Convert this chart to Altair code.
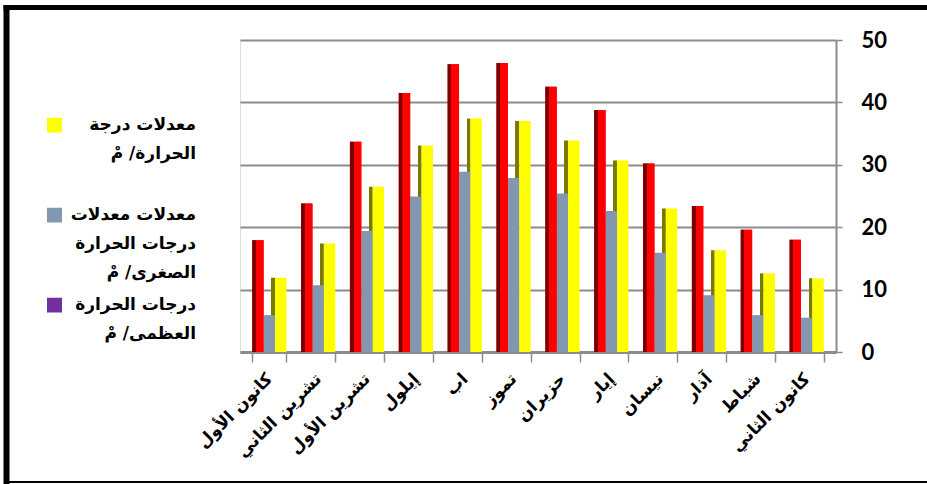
import altair as alt
import pandas as pd

months = ["كانون الأول", "تشرين الثاني", "تشرين الأول", "إيلول", "اب", "تموز",
          "حزيران", "إيار", "نيسان", "آذار", "شباط", "كانون الثاني"]
max_temp = [17.9, 23.8, 33.7, 41.5, 46.1, 46.3, 42.5, 38.8, 30.2, 23.4, 19.6, 18.0]
min_temp = [5.9, 10.7, 19.4, 24.9, 28.9, 27.9, 25.4, 22.6, 15.9, 9.1, 5.9, 5.5]
avg_temp = [11.9, 17.4, 26.5, 33.1, 37.4, 37.0, 33.9, 30.7, 23.0, 16.3, 12.6, 11.8]

series_avg = "معدلات درجة\nالحرارة/ مْ"
series_min = "معدلات معدلات\nدرجات الحرارة\nالصغرى/ مْ"
series_max = "درجات الحرارة\nالعظمى/ مْ"
y_ticks = [0, 10, 20, 30, 40, 50]

RED, DARK_RED = "#FF0000", "#7A0000"
GRAY = "#8497B0"
YELLOW, OLIVE = "#FFFF00", "#7A7A00"
PURPLE = "#7030A0"
AXIS_GRAY = "#8C8C8C"
AR_FONT = "DejaVu Sans"

rows = []
for i, m in enumerate(months):
    rows.append({"month": m, "series": series_max, "value": max_temp[i]})
    rows.append({"month": m, "series": series_min, "value": min_temp[i]})
    rows.append({"month": m, "series": series_avg, "value": avg_temp[i]})
long_df = pd.DataFrame(rows)
# side face of the yellow bar sits in the slot of the grey bar, behind it
side_df = pd.DataFrame({"month": months, "series": series_min, "value": avg_temp})

x_enc = alt.X("month:N", sort=months,
              scale=alt.Scale(domain=months, paddingInner=0.3, paddingOuter=0.25),
              axis=alt.Axis(title=None, labelAngle=-45, labelAlign="right", labelBaseline="middle",
                            labelFont=AR_FONT, labelFontSize=17, labelFontWeight="bold",
                            labelColor="black", labelPadding=14, labelLimit=300,
                            tickBand="extent", tickSize=10, tickColor=AXIS_GRAY, tickWidth=1.5,
                            domainColor=AXIS_GRAY, domainWidth=3, grid=False))
off_enc = alt.XOffset("series:N", sort=[series_max, series_min, series_avg],
                      scale=alt.Scale(domain=[series_max, series_min, series_avg],
                                      paddingInner=0, paddingOuter=0))
y_axis = alt.Axis(title=None, orient="right", values=y_ticks,
                  labelFont="Lato", labelFontSize=22, labelFontWeight="bold", labelColor="black",
                  labelPadding=19, tickSize=6, tickColor=AXIS_GRAY, tickWidth=1.5,
                  domainColor=AXIS_GRAY, domainWidth=2, gridColor=AXIS_GRAY, gridWidth=2)
y_scale = alt.Scale(domain=[0, 50], nice=False)
y_enc = alt.Y("value:Q", scale=y_scale, axis=y_axis)


def side_gradient(start, end, color_a, color_b):
    return alt.Gradient(
        gradient="linear", x1=0, x2=1, y1=0, y2=0,
        stops=[alt.GradientStop(color=color_a, offset=0),
               alt.GradientStop(color=color_a, offset=start),
               alt.GradientStop(color=color_b, offset=end),
               alt.GradientStop(color=color_b, offset=1)])


yellow_side = alt.Chart(side_df).mark_bar(
    color=side_gradient(0.66, 0.67, "rgba(0,0,0,0)", OLIVE)
).encode(x=x_enc, xOffset=off_enc, y=y_enc)

bars = alt.Chart(long_df).mark_bar().encode(
    x=x_enc, xOffset=off_enc, y=y_enc,
    color=alt.Color("series:N",
                    scale=alt.Scale(domain=[series_avg, series_min, series_max],
                                    range=[YELLOW, GRAY, RED]),
                    legend=None),
)

red_face = alt.Chart(long_df).transform_filter(
    alt.datum.series == series_max
).mark_bar(color=side_gradient(0.32, 0.33, DARK_RED, RED)).encode(
    x=x_enc, xOffset=off_enc, y=y_enc,
)

legend_layer = alt.Chart(long_df).mark_square(size=0, opacity=1).encode(
    color=alt.Color("series:N",
                    scale=alt.Scale(domain=[series_avg, series_min, series_max],
                                    range=[YELLOW, GRAY, PURPLE]),
                    legend=alt.Legend(title=None, orient="none", legendX=-194, legendY=77.5,
                                      padding=0, gridAlign="all", rowPadding=14, clipHeight=15,
                                      labelAlign="right", labelOffset=133, labelBaseline="middle",
                                      labelFont=AR_FONT, labelFontSize=17, labelFontWeight="bold",
                                      labelColor="black", labelLimit=400,
                                      labelExpr="split(datum.label, '\\n')",
                                      symbolType="square", symbolSize=225, symbolOpacity=1,
                                      symbolStrokeWidth=0)),
)

frame_df = pd.DataFrame({"k": [0]})
frame_left = alt.Chart(frame_df).mark_rule(color="black", strokeWidth=6).encode(
    x=alt.value(-233.5), y=alt.value(-35), y2=alt.value(444))
frame_top = alt.Chart(frame_df).mark_rule(color="black", strokeWidth=5).encode(
    x=alt.value(-236.5), x2=alt.value(687), y=alt.value(-32.5))
frame_bottom = alt.Chart(frame_df).mark_rule(color="black", strokeWidth=2).encode(
    x=alt.value(-234), x2=alt.value(687), y=alt.value(442))

chart = alt.layer(
    yellow_side, bars, red_face, legend_layer, frame_left, frame_top, frame_bottom
).resolve_scale(color="independent").properties(
    width=596, height=312,
    autosize=alt.AutoSizeParams(type="none"),
    padding={"left": 240, "top": 40, "right": 91, "bottom": 132},
    background="white",
).configure_view(stroke=None).configure(
    style={"guide-label": {"lineHeight": 29}}
)

chart.save("out.html", embed_options={"renderer": "svg", "actions": False})
